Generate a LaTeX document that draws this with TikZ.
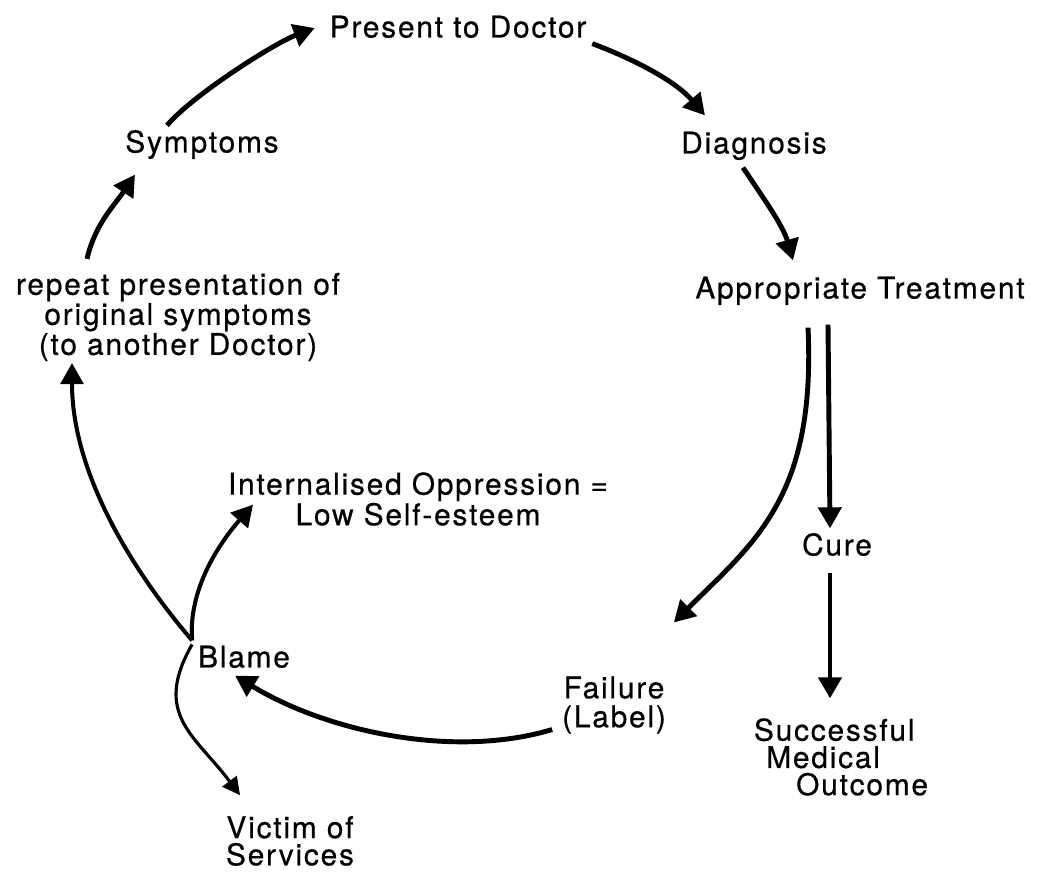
\documentclass[tikz,border=0pt]{standalone}
\usepackage{fontspec}
\setmainfont{TeX Gyre Heros}[LetterSpace=6,FakeBold=0.6]
\usetikzlibrary{arrows.meta}
\usetikzlibrary{calc}

\begin{document}
\begin{tikzpicture}[x=0.02cm,y=-0.02cm,line width=2.8pt,
    >={Triangle[length=12pt,width=13pt]},
    every node/.style={inner sep=2pt,font=\fontsize{17}{15.5}\selectfont},
    one/.style={text height=12pt,text depth=3.5pt}]
    \useasboundingbox (0,0) rectangle (1043,877);
    \node[one] (PD) at (458,30) {Present to Doctor};
    \node[one] (SY) at (202,145) {Symptoms};
    \node[one] (DG) at (754,146) {Diagnosis};
    \node[one] (AT) at (860,291) {Appropriate Treatment};
    \node[align=center] (RP) at (178,317) {repeat presentation of\\original symptoms\\(to another Doctor)};
    \node[one] (CU) at (837,548) {Cure};
    \node[align=left,anchor=west] (SMO) at (748,757) {Successful\\\hspace{7pt}Medical\\\hspace{24pt}Outcome};
    \node[align=center] (FL) at (614,705) {Failure\\[1pt](Label)};
    \node[one] (BL) at (244,660) {Blame};
    \node[align=center] (IO) at (418,499) {Internalised Oppression =\\Low Self-esteem};
    \node[align=center] (VS) at (290,841) {Victim of\\Services};
    \draw[->] ($(RP.north)+(-91,-8)$) .. controls +(8,-35) and +(-20,30) .. ($(SY.south)+(-67,10)$);
    \draw[->] ($(SY.north)+(-35,0)$) .. controls +(25,-30) and +(-40,15) .. ($(PD.west)+(-9,-2)$);
    \draw[->] ($(PD.south east)+(0,-6)$) .. controls +(40,15) and +(-30,-35) .. ($(DG.north)+(-49,-11)$);
    \draw[->] ($(DG.south)+(-11,2)$) .. controls +(20,30) and +(-10,-35) .. ($(AT.north)+(-67,-11)$);
    \draw[->] ($(AT.south)+(-52,17)$) .. controls +(8,170) and +(80,-80) .. ($(FL.north east)+(2,-48)$);
    \draw[->] ($(AT.south)+(-32,14)$) -- ($(CU.north)+(-7,0)$);
    \draw[->] ($(CU.south)+(-7,5)$) -- ($(CU.south |- SMO.north)+(-7,-14)$);
    \draw[->] ($(FL.south west)+(-4,-10)$) .. controls +(-100,30) and +(90,55) .. ($(BL.south)+(-9,-4)$);
    \draw[->,line width=2.3pt] (BL.north west) .. controls +(-60,-70) and +(0,110) .. ($(RP.south)+(-106,-4)$);
    \draw[->,line width=2.3pt] (BL.north west) .. controls +(-4,-50) and +(-35,40) .. ($(IO.south)+(-165,-27)$);
    \draw[->,line width=1.8pt,>={Triangle[length=10pt,width=10pt]}] ($(BL.north west)+(0,4)$) .. controls +(-40,70) and +(-45,-60) .. ($(VS.north west)+(20,-15)$);
\end{tikzpicture}
\end{document}
